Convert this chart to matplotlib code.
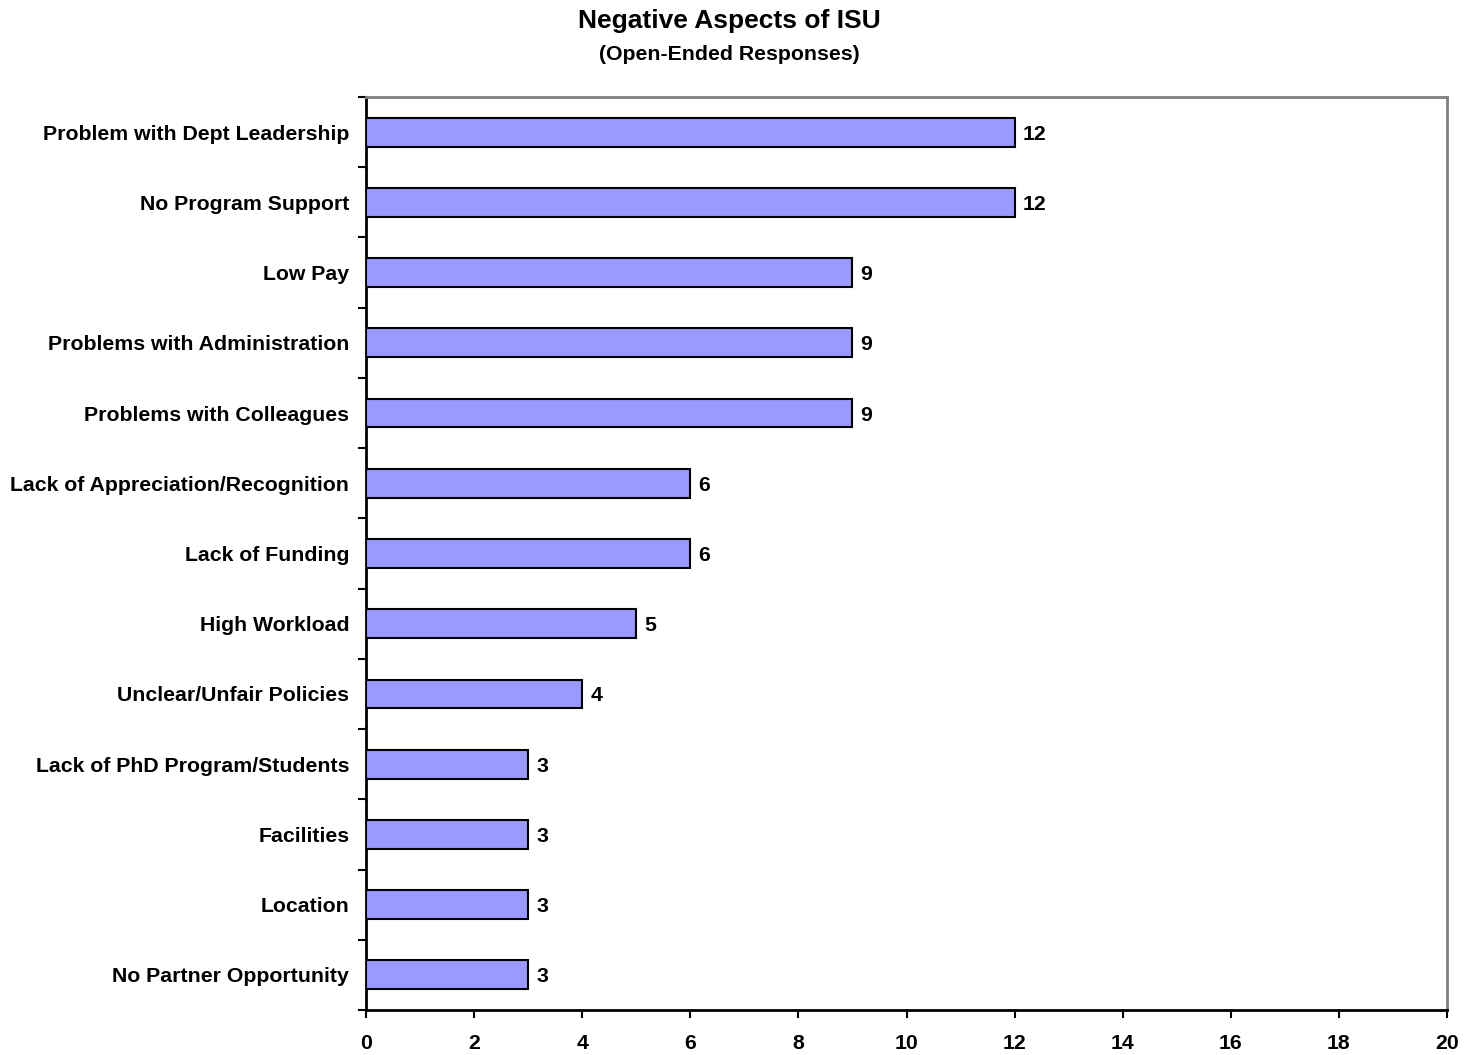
import matplotlib
matplotlib.use("Agg")
import matplotlib.pyplot as plt
import numpy as np

categories = ["Problem with Dept Leadership", "No Program Support", "Low Pay",
              "Problems with Administration", "Problems with Colleagues",
              "Lack of Appreciation/Recognition", "Lack of Funding", "High Workload",
              "Unclear/Unfair Policies", "Lack of PhD Program/Students", "Facilities",
              "Location", "No Partner Opportunity"]
values = [12, 12, 9, 9, 9, 6, 6, 5, 4, 3, 3, 3, 3]
xticks = [0, 2, 4, 6, 8, 10, 12, 14, 16, 18, 20]

plt.rcParams['font.family'] = ['Liberation Sans', 'DejaVu Sans']
plt.rcParams['font.weight'] = 'bold'

fig = plt.figure(figsize=(14.72, 10.55), dpi=100)
ax = fig.add_axes([366/1472, 1 - 1010/1055, (1447-366)/1472, (1010-97)/1055])

n = len(categories)
y = np.arange(n)
ax.barh(y, values, height=0.41, color='#9999FF', edgecolor='black', linewidth=1.5, zorder=3)
for yi, v in zip(y, values):
    ax.text(v + 0.15, yi, str(v), va='center_baseline', ha='left', fontsize=15.3, fontweight='bold')

ax.set_ylim(n - 0.5, -0.5)
ax.set_xlim(0, 20)
ax.set_yticks(np.arange(-0.5, n, 1.0))
ax.set_yticklabels([])
ax.set_yticks(y, minor=True)
ax.set_yticklabels(categories, minor=True, fontsize=15.3, fontweight='bold', va='center_baseline')
ax.tick_params(axis='y', which='major', direction='out', length=6, width=1.5)
ax.tick_params(axis='y', which='minor', length=0, pad=12)
ax.set_xticks(xticks)
ax.set_xticklabels([str(t) for t in xticks], fontsize=15.3, fontweight='bold')
ax.tick_params(axis='x', direction='out', length=6, width=1.5, pad=11)

for s in ['left', 'bottom']:
    ax.spines[s].set_color('black')
    ax.spines[s].set_linewidth(2)
for s in ['top', 'right']:
    ax.spines[s].set_color('#808080')
    ax.spines[s].set_linewidth(2)

fig.text(729/1472, 1 - 21/1055, "Negative Aspects of ISU", ha='center', va='center',
         fontsize=19, fontweight='bold')
fig.text(729/1472, 1 - 54/1055, "(Open-Ended Responses)", ha='center', va='center',
         fontsize=15.3, fontweight='bold')

fig.savefig("out.png", dpi=100)
